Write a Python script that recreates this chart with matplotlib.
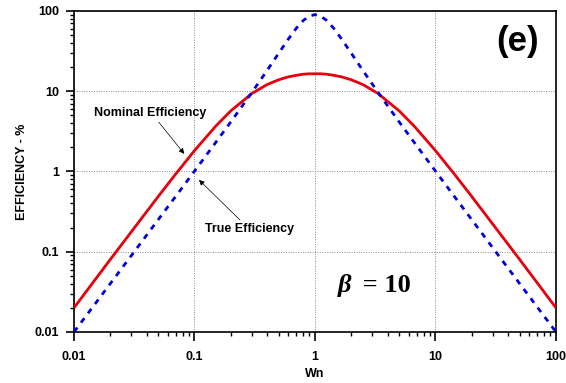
import matplotlib
matplotlib.use("Agg")
import matplotlib.pyplot as plt
from matplotlib.ticker import LogLocator, FixedLocator, NullFormatter

# Data
wn = [0.01, 0.02, 0.03, 0.05, 0.07, 0.1, 0.15, 0.2, 0.3, 0.4, 0.5, 0.6, 0.7, 0.8, 0.9, 1.0,
      1.111, 1.25, 1.429, 1.667, 2.0, 2.5, 3.333, 5.0, 6.667, 10.0, 14.29, 20.0, 33.33, 50.0, 100.0]
nominal_eff = [0.020, 0.080, 0.178, 0.488, 0.934, 1.82, 3.67, 5.69, 9.39, 12.1, 13.9, 15.1, 15.8, 16.3, 16.5, 16.5,
               16.5, 16.3, 15.8, 15.1, 13.9, 12.1, 9.39, 5.69, 3.67, 1.82, 0.934, 0.488, 0.178, 0.080, 0.020]
true_eff = [0.010, 0.040, 0.090, 0.251, 0.492, 1.01, 2.30, 4.14, 9.70, 18.1, 29.8, 44.5, 61.0, 76.2, 86.6, 90.1,
            86.6, 76.2, 61.0, 44.5, 29.8, 18.1, 9.70, 4.14, 2.30, 1.01, 0.492, 0.251, 0.090, 0.040, 0.010]

xticks = [0.01, 0.1, 1, 10, 100]
xticklabels = ["0.01", "0.1", "1", "10", "100"]
yticks = [0.01, 0.1, 1, 10, 100]
yticklabels = ["0.01", "0.1", "1", "10", "100"]

plt.rcParams['font.family'] = ['Liberation Sans', 'DejaVu Sans']

fig = plt.figure(figsize=(5.66, 3.83), dpi=100)
ax = fig.add_axes([0.1307, 0.1332, 0.9823 - 0.1307, 0.9713 - 0.1332])

ax.plot(wn, nominal_eff, color='#e8000b', lw=2.0, solid_capstyle='butt', zorder=3)
ax.plot(wn, true_eff, color='#0000e0', lw=2.0, linestyle=(0, (2.0, 2.2)), zorder=3)

ax.set_xscale('log')
ax.set_yscale('log')
ax.set_xlim(0.01, 100)
ax.set_ylim(0.01, 100)

ax.xaxis.set_major_locator(FixedLocator(xticks))
ax.set_xticklabels(xticklabels)
ax.yaxis.set_major_locator(FixedLocator(yticks))
ax.set_yticklabels(yticklabels)
ax.xaxis.set_minor_locator(LogLocator(base=10, subs=range(2, 10)))
ax.yaxis.set_minor_locator(LogLocator(base=10, subs=range(2, 10)))
ax.xaxis.set_minor_formatter(NullFormatter())
ax.yaxis.set_minor_formatter(NullFormatter())

ax.tick_params(which='major', direction='out', length=5.5, width=1.2, labelsize=9, pad=5, top=False, right=False)
ax.tick_params(which='minor', direction='out', length=3, width=1.0, top=False, right=False)
for lab in ax.get_xticklabels() + ax.get_yticklabels():
    lab.set_fontweight('bold')
ax.tick_params(axis='x', which='major', length=6.5, pad=7)

for sp in ax.spines.values():
    sp.set_linewidth(1.2)

ax.grid(True, which='major', color='#888888', linestyle=(0, (1, 1.5)), linewidth=0.7)

ax.set_xlabel('Wn', fontsize=9, fontweight='bold', labelpad=4)
ax.set_ylabel('EFFICIENCY - %', fontsize=9, fontweight='bold', labelpad=5)

# Annotations
ax.text(0.0427, 5.36, 'Nominal Efficiency', fontsize=9, fontweight='bold', ha='center', va='center')
ax.annotate('', xy=(0.085, 1.56), xytext=(0.0489, 4.38),
            arrowprops=dict(arrowstyle='-|>', color='black', lw=0.5, mutation_scale=8))
ax.text(0.289, 0.192, 'True Efficiency', fontsize=9, fontweight='bold', ha='center', va='center')
ax.annotate('', xy=(0.105, 0.83), xytext=(0.248, 0.235),
            arrowprops=dict(arrowstyle='-|>', color='black', lw=0.5, mutation_scale=8))

ax.text(0.92, 0.905, '(e)', transform=ax.transAxes, fontsize=25, fontweight='bold', ha='center', va='center')
ax.text(0.548, 0.146, 'β', transform=ax.transAxes, fontsize=19, fontweight='bold', fontstyle='italic',
        family='Liberation Serif', ha='left', va='center')
ax.text(0.585, 0.146, ' = 10', transform=ax.transAxes, fontsize=19, fontweight='bold',
        family='Liberation Serif', ha='left', va='center')

fig.savefig('out.png', dpi=100)
